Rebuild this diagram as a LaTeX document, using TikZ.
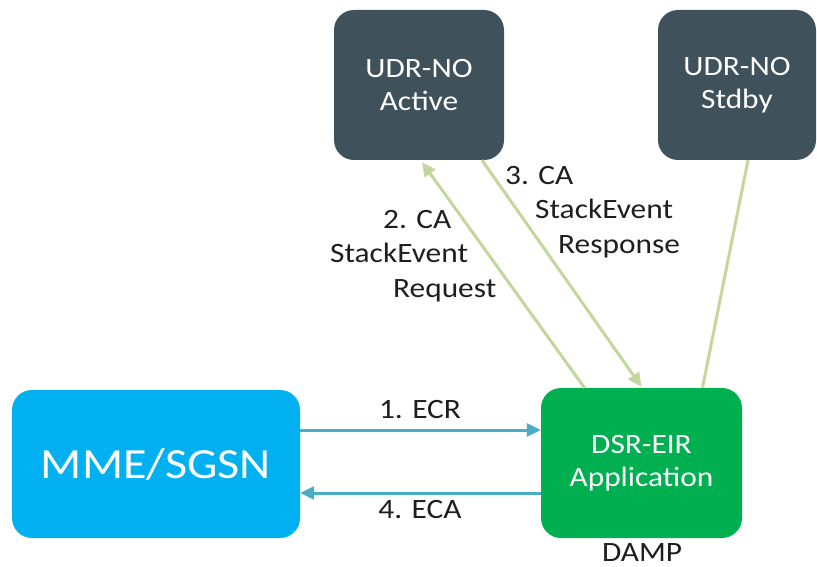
\documentclass[tikz,border=0pt]{standalone}
\usepackage{fontspec}
\setmainfont{Carlito}[FakeStretch=1.12]
\usetikzlibrary{arrows.meta}
\definecolor{udrfill}{HTML}{3F525B}
\definecolor{mmefill}{HTML}{00B0F0}
\definecolor{dsrfill}{HTML}{00B050}
\definecolor{blueline}{HTML}{4BACC6}
\definecolor{greenline}{HTML}{C3D69B}
\definecolor{txt}{HTML}{1E1E1E}
\tikzset{
  box/.style={rectangle, rounded corners=20pt, draw=none, text=white, align=center, inner sep=0pt, font=\fontsize{28}{33}\selectfont},
  blink/.style={draw=blueline, line width=3pt, -{Triangle[length=14pt,width=13pt]}},
  glink/.style={draw=greenline, line width=3pt, -{Triangle[length=14pt,width=13pt]}},
  gline/.style={draw=greenline, line width=3pt},
  lbl/.style={text=txt, inner sep=0pt, font=\fontsize{28}{34.5}\selectfont},
}
\begin{document}
\begin{tikzpicture}[x=1pt,y=-1pt]
\useasboundingbox (0,0) rectangle (817,567);
\node[box, fill=udrfill, minimum width=170pt, minimum height=150pt] (udra) at (419,85) {UDR-NO\\Active};
\node[box, fill=udrfill, minimum width=158pt, minimum height=150pt] (udrs) at (737,85) {UDR-NO\\Stdby};
\node[box, fill=mmefill, minimum width=288pt, minimum height=148pt, font=\fontsize{43}{48}\selectfont] (mme) at (156,464) {MME/SGSN};
\node[box, fill=dsrfill, minimum width=201pt, minimum height=150pt] (dsr) at (641.5,463) {DSR-EIR\\Application};
\draw[blink] (mme.east |- 0,430) -- (dsr.west |- 0,430);
\draw[blink] (dsr.west |- 0,493) -- (mme.east |- 0,493);
\draw[glink] ([xshift=-57pt]dsr.north) -- ([xshift=3pt,yshift=-2pt]udra.south);
\draw[glink] ([xshift=63pt]udra.south) -- ([yshift=1pt]dsr.north);
\draw[gline] ([xshift=11pt]udrs.south) -- ([xshift=61pt]dsr.north);
\node[lbl, anchor=center] (l1) at (420,410) {1. ECR};
\node[lbl, anchor=center] (l4) at (420,510) {4. ECA};
\node[lbl, anchor=center] (ldamp) at (642,552.5) {DAMP};
\node[lbl, anchor=west, align=left] (l2) at (330,256) {\hspace*{53pt}2. CA\\StackEvent\\\hspace*{63pt}Request};
\node[lbl, anchor=west, align=left] (l3) at (505,212) {3. CA\\\hspace*{30pt}StackEvent\\\hspace*{53pt}Response};
\end{tikzpicture}
\end{document}
